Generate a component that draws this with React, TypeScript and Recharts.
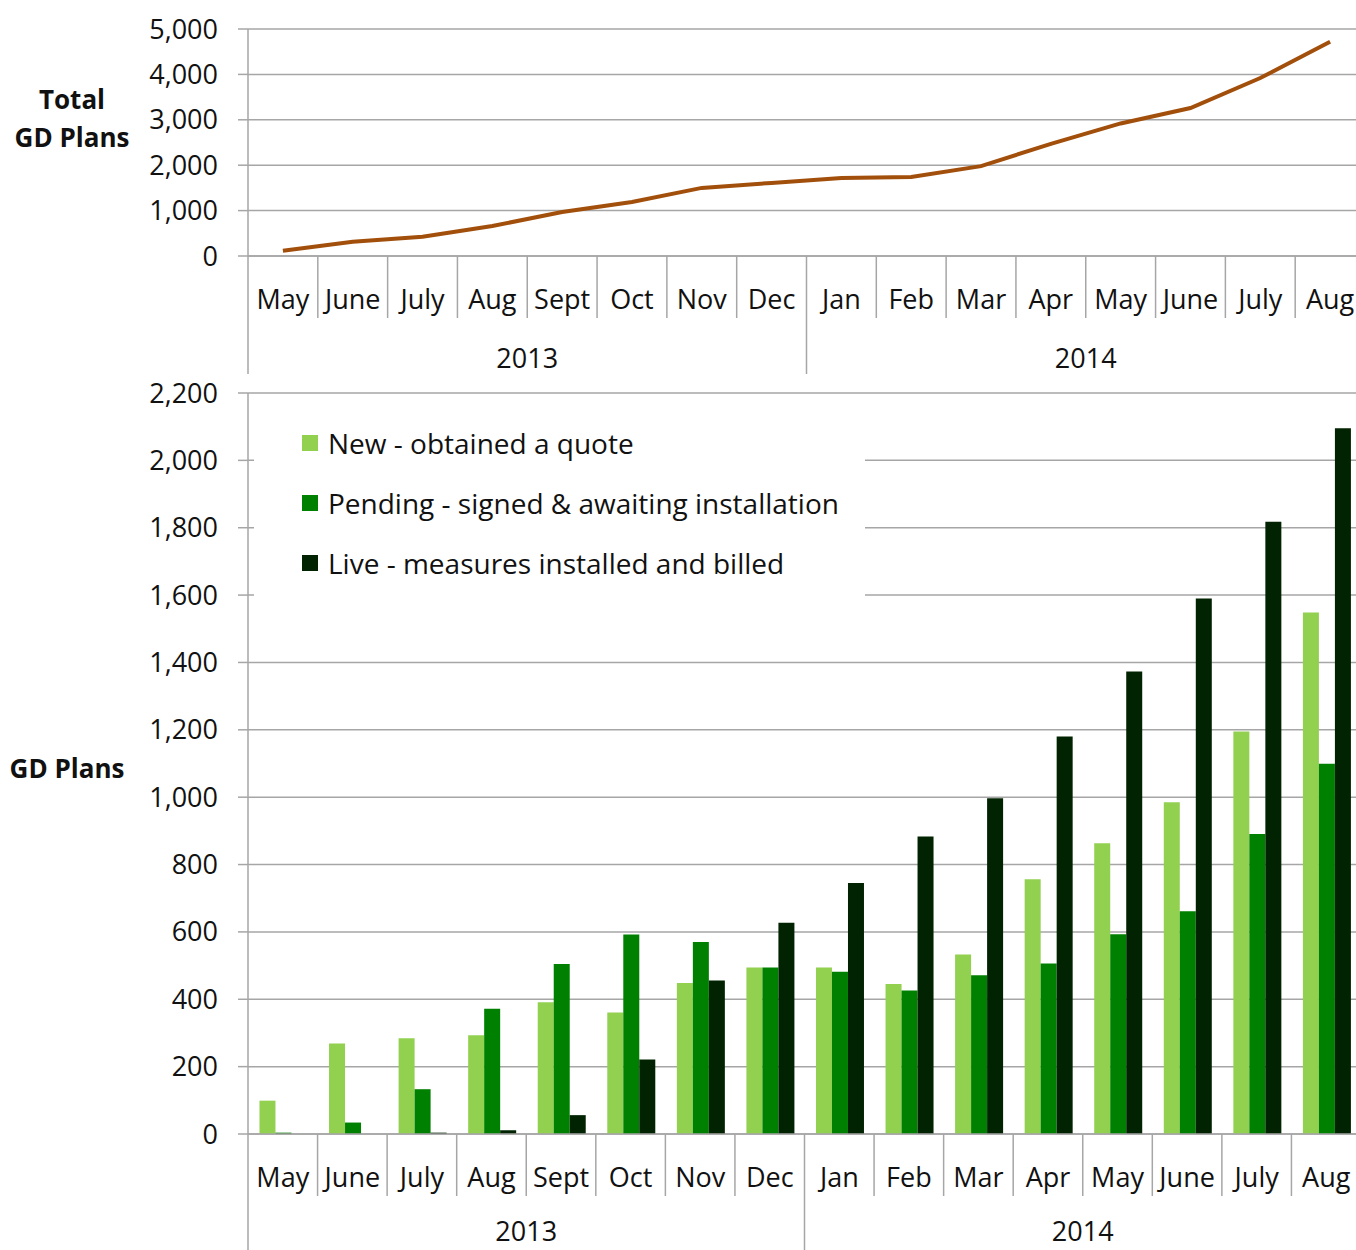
import React from "react";
import {
  LineChart, Line, BarChart, Bar, XAxis, YAxis, CartesianGrid, Legend,
} from "recharts";

const months = ["May", "June", "July", "Aug", "Sept", "Oct", "Nov", "Dec", "Jan", "Feb", "Mar", "Apr", "May", "June", "July", "Aug"];
const years = ["2013", "2013", "2013", "2013", "2013", "2013", "2013", "2013", "2014", "2014", "2014", "2014", "2014", "2014", "2014", "2014"];

const totalPlans = [115, 315, 425, 660, 970, 1190, 1500, 1610, 1720, 1740, 1980, 2470, 2920, 3260, 3920, 4720];

const newQuote = [99, 269, 284, 293, 391, 361, 448, 494, 494, 445, 533, 756, 863, 985, 1195, 1548];
const pendingInstall = [4, 34, 133, 372, 505, 592, 570, 494, 482, 426, 471, 506, 593, 661, 891, 1099];
const liveBilled = [0, 0, 4, 11, 56, 221, 456, 627, 745, 883, 997, 1180, 1373, 1590, 1818, 2095];

const seriesNames = ["New - obtained a quote", "Pending - signed & awaiting installation", "Live - measures installed and billed"];

const totalTicks = [0, 1000, 2000, 3000, 4000, 5000];
const planTicks = [0, 200, 400, 600, 800, 1000, 1200, 1400, 1600, 1800, 2000, 2200];

const FONT = "'Open Sans', 'Noto Sans', sans-serif";
const GRID = "#a6a6a6";
const INK = "#111";
const AXIS_W = 248;
const FS = 27;

const rows = months.map((m, i) => ({
  key: `${m} ${years[i]}`,
  total: totalPlans[i],
  fresh: newQuote[i],
  pending: pendingInstall[i],
  live: liveBilled[i],
}));

// year groups for the second row of category labels
const groups: { start: number; count: number; label: string }[] = [];
years.forEach((y, i) => {
  const last = groups[groups.length - 1];
  if (last && last.label === y) last.count++;
  else groups.push({ start: i, count: 1, label: y });
});

const fmt = (n: number) => n.toLocaleString("en-US");

function MonthTick(props: any) {
  const { x, y, index, band, yearDy } = props;
  const left = x - band / 2;
  const yearStart = index === 0 || years[index] !== years[index - 1];
  const group = groups.find((g) => g.start + g.count / 2 === index);
  return (
    <g>
      <line x1={left} x2={left} y1={y} y2={y + (yearStart ? 118 : 62)} stroke={GRID} strokeWidth={1.5} />
      <text x={x} y={y + 42} textAnchor="middle" dominantBaseline="central" fontFamily={FONT} fontSize={FS} fill={INK}>
        {months[index]}
      </text>
      {group && (
        <text x={left} y={y + yearDy} textAnchor="middle" dominantBaseline="central" fontFamily={FONT} fontSize={FS} fill={INK}>
          {group.label}
        </text>
      )}
    </g>
  );
}

function AxisTitle({ lines, cx, cy }: { lines: string[]; cx: number; cy: number }) {
  return (
    <text x={cx} y={cy} textAnchor="middle" fontFamily={FONT} fontSize={26} fontWeight="bold" fill={INK}>
      {lines.map((l, i) => (
        <tspan key={l} x={cx} dy={i === 0 ? 0 : 38}>{l}</tspan>
      ))}
    </text>
  );
}

const LegendBox = ({ payload }: any) => {
  const items = [...(payload || [])].sort((a: any, b: any) => seriesNames.indexOf(a.value) - seriesNames.indexOf(b.value));
  return (
    <div style={{ background: "#fff", width: 563, paddingLeft: 48, paddingBottom: 6, fontFamily: FONT, fontSize: 28, color: INK }}>
      {items.map((p: any) => (
        <div key={p.value} style={{ height: 60, display: "flex", alignItems: "center" }}>
          <span style={{ width: 16, height: 16, background: p.color, marginRight: 10, display: "inline-block" }} />
          {p.value}
        </div>
      ))}
    </div>
  );
};

const tickStyle = { fill: INK, fontSize: FS, fontFamily: FONT };

export default function App() {
  const topW = 1365;
  const botW = 1361;
  return (
    <div style={{ position: "fixed", left: 0, top: 0, width: 1356, height: 1250, overflow: "hidden", background: "#fff" }}>
      <div style={{ position: "absolute", left: 0, top: 0 }}>
        <LineChart width={topW} height={376} data={rows} margin={{ top: 29, right: 0, bottom: 0, left: 0 }}>
          <CartesianGrid vertical={false} stroke={GRID} strokeWidth={1.5} />
          <XAxis
            dataKey="key"
            scale="band"
            interval={0}
            height={120}
            tickLine={false}
            tickSize={0}
            tickMargin={0}
            axisLine={{ stroke: GRID, strokeWidth: 1.5 }}
            tick={<MonthTick band={(topW - AXIS_W) / months.length} yearDy={101} />}
          />
          <YAxis
            width={AXIS_W}
            domain={[0, 5000]}
            ticks={totalTicks}
            tickFormatter={fmt}
            tickSize={10}
            tickMargin={20}
            tick={tickStyle}
            tickLine={{ stroke: GRID, strokeWidth: 1.5 }}
            axisLine={{ stroke: GRID, strokeWidth: 1.5 }}
            label={<AxisTitle lines={["Total", "GD Plans"]} cx={72} cy={109} />}
          />
          <Line type="linear" dataKey="total" stroke="#a24f0c" strokeWidth={4} dot={false} isAnimationActive={false} />
        </LineChart>
      </div>

      <div style={{ position: "absolute", left: 0, top: 366 }}>
        <BarChart width={botW} height={884} data={rows} margin={{ top: 27, right: 0, bottom: 0, left: 0 }} barCategoryGap="16.5%" barGap={0}>
          <CartesianGrid vertical={false} stroke={GRID} strokeWidth={1.5} />
          <XAxis
            dataKey="key"
            interval={0}
            height={116}
            tickLine={false}
            tickSize={0}
            tickMargin={0}
            axisLine={{ stroke: GRID, strokeWidth: 1.5 }}
            tick={<MonthTick band={(botW - AXIS_W) / months.length} yearDy={96} />}
          />
          <YAxis
            width={AXIS_W}
            domain={[0, 2200]}
            ticks={planTicks}
            tickFormatter={fmt}
            tickSize={10}
            tickMargin={20}
            tick={tickStyle}
            tickLine={{ stroke: GRID, strokeWidth: 1.5 }}
            axisLine={{ stroke: GRID, strokeWidth: 1.5 }}
            label={<AxisTitle lines={["GD Plans"]} cx={67} cy={412} />}
          />
          <Legend
            layout="vertical"
            align="center"
            verticalAlign="middle"
            content={<LegendBox />}
            wrapperStyle={{ left: 254, top: 47, width: "auto" }}
          />
          <Bar dataKey="fresh" name={seriesNames[0]} fill="#92d050" isAnimationActive={false} />
          <Bar dataKey="pending" name={seriesNames[1]} fill="#008000" isAnimationActive={false} />
          <Bar dataKey="live" name={seriesNames[2]} fill="#012301" isAnimationActive={false} />
        </BarChart>
      </div>
    </div>
  );
}
